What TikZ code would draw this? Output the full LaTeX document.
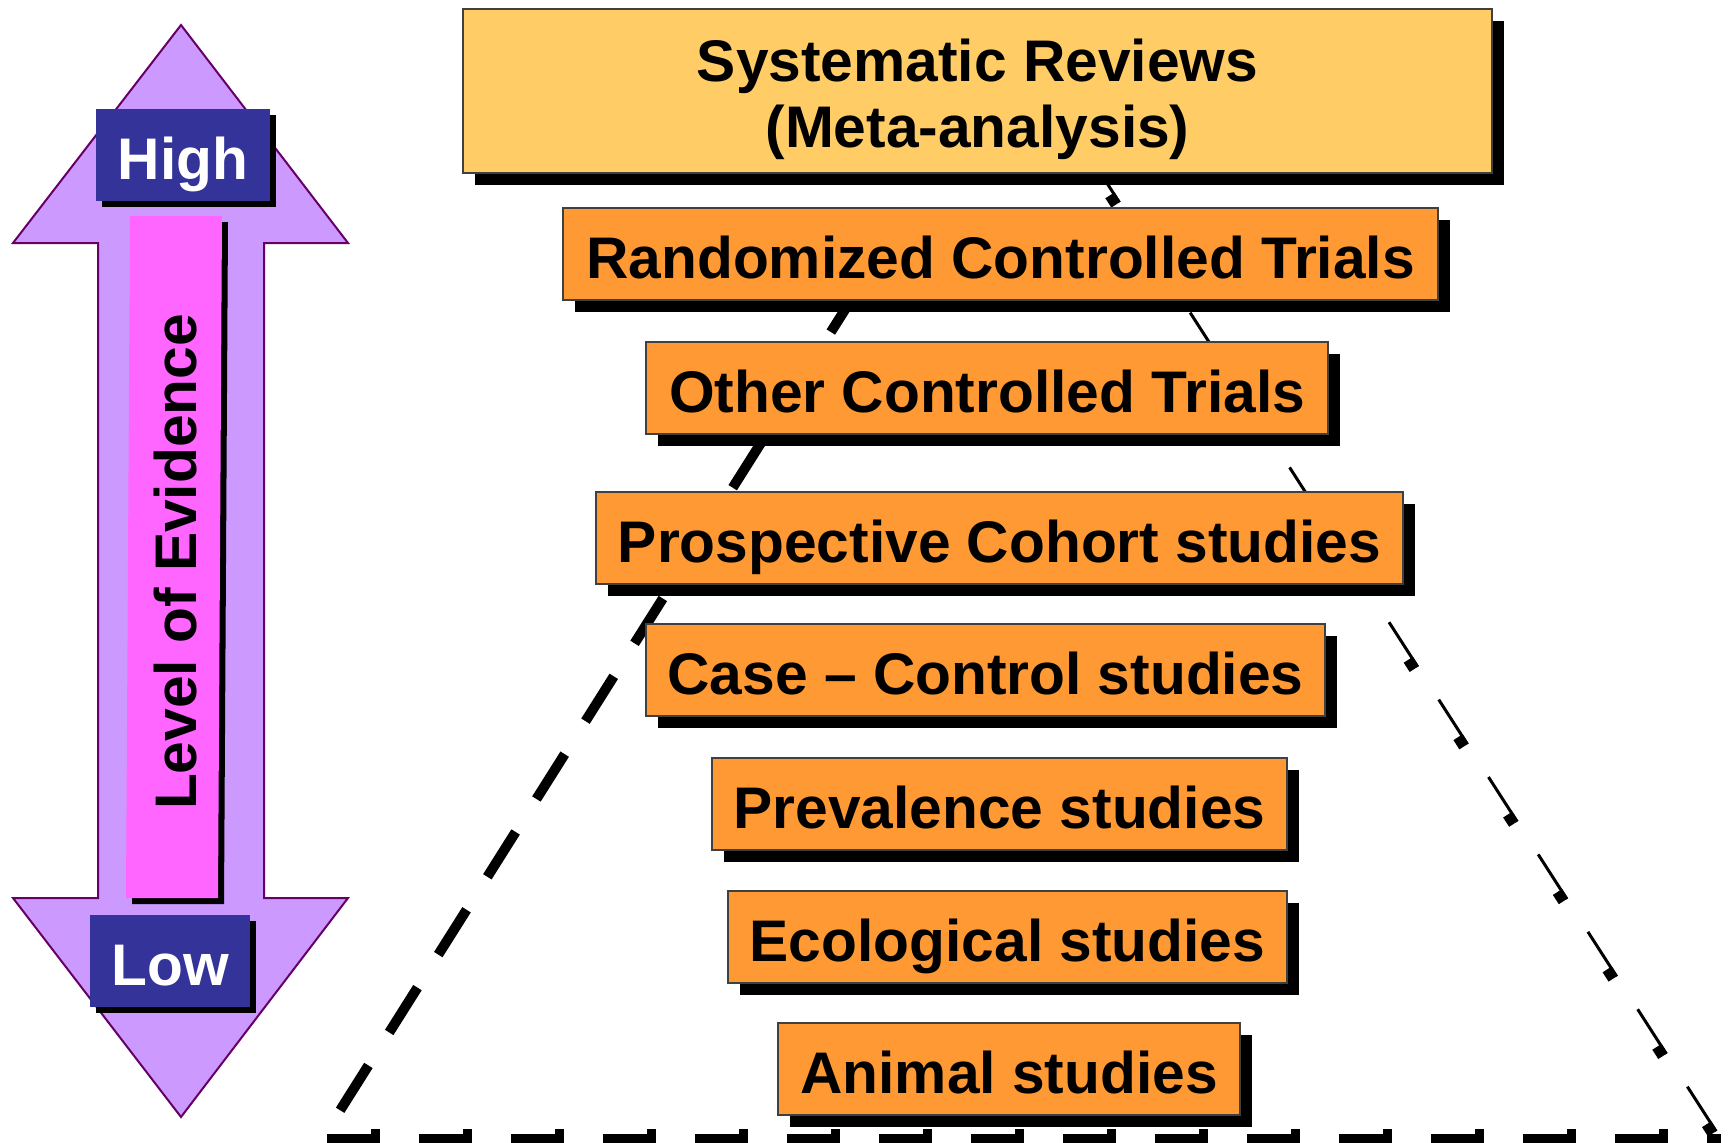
\documentclass[tikz,border=0pt]{standalone}
\usepackage{fontspec}
\setmainfont{Liberation Sans}
\usepackage{xcolor}
\usepackage{tikz}
\usetikzlibrary{shadows}

\definecolor{lilas}{HTML}{CC99FF}
\definecolor{prune}{HTML}{660066}
\definecolor{rose}{HTML}{FF66FF}
\definecolor{indigo}{HTML}{333399}
\definecolor{orangef}{HTML}{FF9933}
\definecolor{orangec}{HTML}{FFCC66}

\begin{document}
\begin{tikzpicture}[x=0.1mm, y=-0.1mm,
    font=\fontsize{16.7}{18.8}\selectfont\bfseries,
    bloc/.style={draw=black!75, line width=0.2mm, fill=orangef,
      minimum height=9.2mm, inner sep=0pt, align=center,
      drop shadow={shadow xshift=1.2mm, shadow yshift=-1.2mm,
        fill=black, opacity=1}},
    etage/.style={bloc, text height=14.6pt, text depth=0.6pt},
    borne/.style={fill=indigo, text=white, minimum height=9.2mm,
      inner sep=0pt, text height=14.6pt, text depth=0.6pt,
      drop shadow={shadow xshift=0.6mm, shadow yshift=-0.6mm,
        fill=black, opacity=1}},
    trait/.style={line width=1mm, dash pattern=on 5.3mm off 3.9mm}]
    % ── Cadre (coordonnées en pixels, y vers le bas) ─────────────────────────
    \useasboundingbox (0,0) rectangle (1728,1142);
    \clip (0,0) rectangle (1728,1142);
    % ── Triangle pointillé, derrière les cases ──────────────────────────────
    % sommet caché sous « Systematic Reviews », base au bord inférieur
    \coordinate (sommet) at (1015,40);
    \coordinate (baseG) at (322,1139);
    \coordinate (baseD) at (1721,1139);
    % côté gauche : tirets épais
    \draw[trait, dash phase=5.8mm] (baseG) -- (sommet);
    % côté droit : tirets fins + petit carré au bout de chaque tiret
    \draw[line width=0.3mm, dash pattern=on 5.3mm off 3.9mm, dash phase=4.4mm]
      (sommet) -- (baseD);
    \draw[line width=1.1mm, dash pattern=on 1.1mm off 8.1mm, dash phase=0.2mm]
      (1011.6,42.2) -- (1717.6,1141.2);
    % base : tirets épais, petite bosse à droite de chaque tiret
    \draw[trait, dash phase=8.7mm] (baseG) -- (baseD);
    \draw[line width=1.2mm, dash pattern=on 0.9mm off 8.3mm, dash phase=4.3mm]
      (322,1135) -- (1721,1135);
    % ── Flèche double « niveau de preuve » ──────────────────────────────────
    \draw[fill=lilas, draw=prune, line width=0.2mm]
      (181,25) -- (348,243) -- (264,243) -- (264,898) -- (348,898)
      -- (181,1117) -- (13,898) -- (98,898) -- (98,243) -- (13,243) -- cycle;
    % bandeau rose (légèrement penché) avec son ombre
    \fill[black] (136,222) -- (228,222) -- (224,904) -- (132,904) -- cycle;
    \fill[rose] (130,216) -- (222,216) -- (218,898) -- (126,898) -- cycle;
    \node[rotate=90] (niveau) at (176,562) {Level of Evidence};
    \node[borne, minimum width=17.4mm] (haut) at (183,155) {High};
    \node[borne, minimum width=16mm] (bas) at (170,961) {Low};
    % ── Étages de la pyramide ────────────────────────────────────────────────
    \node[bloc, fill=orangec, minimum width=102.9mm, minimum height=16.4mm]
      (revues) at (977.5,91) {\rule{0pt}{1em}Systematic Reviews\\(Meta-analysis)};
    \node[etage, minimum width=87.5mm] (ecr) at (1000.5,254)
      {Randomized Controlled Trials};
    \node[etage, minimum width=68.2mm] (autres) at (987,388)
      {Other Controlled Trials};
    \node[etage, minimum width=80.7mm] (cohorte) at (999.5,537.5)
      {Prospective Cohort studies};
    \node[etage, minimum width=67.9mm] (casTemoin) at (985.5,670)
      {Case – Control studies};
    \node[etage, minimum width=57.5mm] (prevalence) at (999.5,803.5)
      {Prevalence studies};
    \node[etage, minimum width=55.9mm] (ecologique) at (1007.5,936.5)
      {Ecological studies};
    \node[etage, minimum width=46.2mm] (animal) at (1009,1069)
      {Animal studies};
  \end{tikzpicture}
\end{document}
